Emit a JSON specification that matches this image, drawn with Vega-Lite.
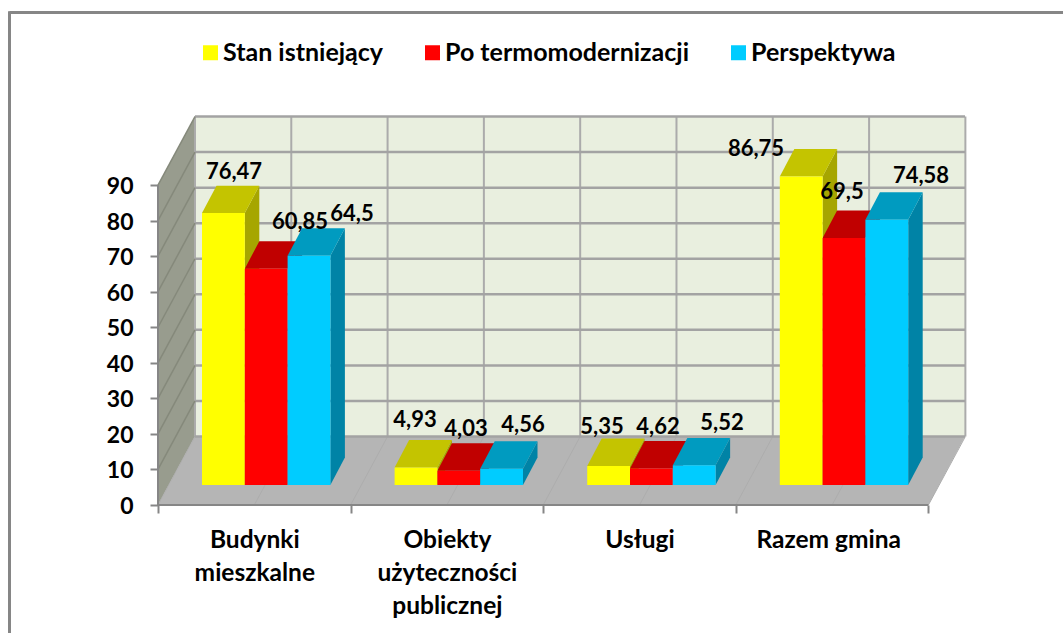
{
"$schema":"https://vega.github.io/schema/vega-lite/v6.json",
"width":807,"height":390,
"autosize":{"type":"none"},
"padding":{"left":158,"top":115,"right":98,"bottom":128},
"background":"white",
"config":{"view":{"stroke":null},"font":"Lato"},
"data":{"values":[
{"cat":"Budynki mieszkalne","series":"Stan istniejący","value":76.47},
{"cat":"Budynki mieszkalne","series":"Po termomodernizacji","value":60.85},
{"cat":"Budynki mieszkalne","series":"Perspektywa","value":64.5},
{"cat":"Obiekty użyteczności publicznej","series":"Stan istniejący","value":4.93},
{"cat":"Obiekty użyteczności publicznej","series":"Po termomodernizacji","value":4.03},
{"cat":"Obiekty użyteczności publicznej","series":"Perspektywa","value":4.56},
{"cat":"Usługi","series":"Stan istniejący","value":5.35},
{"cat":"Usługi","series":"Po termomodernizacji","value":4.62},
{"cat":"Usługi","series":"Perspektywa","value":5.52},
{"cat":"Razem gmina","series":"Stan istniejący","value":86.75},
{"cat":"Razem gmina","series":"Po termomodernizacji","value":69.5},
{"cat":"Razem gmina","series":"Perspektywa","value":74.58}
]},
"transform":[
{"calculate":"indexof(['Budynki mieszkalne','Obiekty użyteczności publicznej','Usługi','Razem gmina'],datum.cat)","as":"i"},
{"calculate":"indexof(['Stan istniejący','Po termomodernizacji','Perspektywa'],datum.series)","as":"j"},
{"calculate":"0.2285+datum.i+datum.j*0.2222","as":"x0"},
{"calculate":"datum.x0+0.2222","as":"x1"},
{"calculate":"5.63+datum.value","as":"top"}
],
"encoding":{
"x":{"field":"x","type":"quantitative","title":null,"scale":{"domain":[0,4.19],"nice":false,"zero":false},
"axis":{"values":[0,0.5,1,1.5,2,2.5,3,3.48,4],"grid":false,"domain":false,"tickSize":8,"tickWidth":2,"tickColor":"#868686","tickOpacity":{"condition":{"test":"datum.value%1==0","value":1},"value":0},
"labelExpr":"datum.value==0.5?['Budynki','mieszkalne']:datum.value==1.5?['Obiekty','użyteczności','publicznej']:datum.value==2.5?'Usługi':datum.value==3.48?'Razem gmina':''",
"labelFont":"Lato","labelFontWeight":"bold","labelFontSize":24.5,"labelColor":"black","labelPadding":15,"labelLineHeight":33,"labelOverlap":false,"labelFlush":false,"labelAlign":"center","labelBaseline":"top"}},
"y":{"field":"y","type":"quantitative","title":null,"stack":null,"scale":{"domain":[0,109.7],"nice":false,"zero":false},
"axis":{"values":[0,10,20,30,40,50,60,70,80,90],"grid":false,"domain":false,"tickSize":8,"tickWidth":2,"tickColor":"#868686","labelFont":"Lato","labelFontWeight":"bold","labelFontSize":23,"labelColor":"black","labelPadding":17,"labelOffset":1.5,"labelOverlap":false,"labelFlush":false}}
},
"layer":[
{"data":{"values":[{"side":"top"}]},
 "transform":[{"calculate":"-0.771","as":"x"},{"calculate":"4.7","as":"x2"},{"calculate":"138.5","as":"y"}],
 "mark":{"type":"rule","color":"#868686","strokeWidth":3,"clip":false},
 "encoding":{"x2":{"field":"x2"}}},
{"data":{"values":[{"side":"left"}]},
 "transform":[{"calculate":"-0.771","as":"x"},{"calculate":"138.9","as":"y"},{"calculate":"-36","as":"y2"}],
 "mark":{"type":"rule","color":"#868686","strokeWidth":3,"clip":false},
 "encoding":{"y2":{"field":"y2"}}},
{"data":{"values":[{"edge":0},{"edge":1}]},
 "transform":[{"calculate":"datum.edge*0.192","as":"x"},{"calculate":"datum.edge*19.27","as":"y"},{"calculate":"90+datum.edge*19.27","as":"y2"}],
 "mark":{"type":"area","orient":"vertical","color":"#989C8E"},
 "encoding":{"y2":{"field":"y2"}}},
{"data":{"values":[{"wall":"back"}]},
 "transform":[{"calculate":"0.192","as":"x"},{"calculate":"4.19","as":"x2"},{"calculate":"19.27","as":"y"},{"calculate":"109.27","as":"y2"}],
 "mark":{"type":"rect","color":"#E9EFDF"},
 "encoding":{"x2":{"field":"x2"},"y2":{"field":"y2"}}},
{"data":{"values":[{"edge":0},{"edge":1}]},
 "transform":[{"calculate":"datum.edge*0.192","as":"x"},{"calculate":"4+datum.edge*0.19","as":"x2"},{"calculate":"datum.edge*19.27","as":"y"}],
 "mark":{"type":"area","orient":"horizontal","color":"#B5B5B5"},
 "encoding":{"x2":{"field":"x2"}}},
{"data":{"values":[{"k":0},{"k":1},{"k":2},{"k":3},{"k":4},{"k":5},{"k":6},{"k":7},{"k":8}]},
 "transform":[{"calculate":"datum.k*0.5","as":"x"},{"calculate":"datum.k*0.5+0.192","as":"x2"},{"calculate":"0","as":"y"},{"calculate":"19.27","as":"y2"}],
 "mark":{"type":"rule","color":"#ADADAD","strokeWidth":1},
 "encoding":{"x2":{"field":"x2"},"y2":{"field":"y2"}}},
{"data":{"values":[{"k":0},{"k":1},{"k":2},{"k":3},{"k":4},{"k":5},{"k":6},{"k":7},{"k":8}]},
 "transform":[{"calculate":"datum.k*0.5+0.192","as":"x"},{"calculate":"19.27","as":"y"},{"calculate":"109.27","as":"y2"}],
 "mark":{"type":"rule","color":"#ABABAB","strokeWidth":2},
 "encoding":{"y2":{"field":"y2"}}},
{"data":{"values":[{"t":10},{"t":20},{"t":30},{"t":40},{"t":50},{"t":60},{"t":70},{"t":80},{"t":90},{"t":0}]},
 "transform":[{"calculate":"0.192","as":"x"},{"calculate":"4.19","as":"x2"},{"calculate":"datum.t+19.27","as":"y"}],
 "mark":{"type":"rule","color":"#A3A3A3","strokeWidth":2.5},
 "encoding":{"x2":{"field":"x2"}}},
{"data":{"values":[{"t":10},{"t":20},{"t":30},{"t":40},{"t":50},{"t":60},{"t":70},{"t":80},{"t":90}]},
 "transform":[{"calculate":"0","as":"x"},{"calculate":"0.192","as":"x2"},{"calculate":"datum.t","as":"y"},{"calculate":"datum.t+19.27","as":"y2"}],
 "mark":{"type":"rule","color":"#85897B","strokeWidth":1.5},
 "encoding":{"x2":{"field":"x2"},"y2":{"field":"y2"}}},
{"data":{"values":[{"axis":"x"}]},
 "transform":[{"calculate":"0","as":"x"},{"calculate":"4","as":"x2"},{"calculate":"0","as":"y"}],
 "mark":{"type":"rule","color":"#868686","strokeWidth":2},
 "encoding":{"x2":{"field":"x2"}}},
{"data":{"values":[{"axis":"y"}]},
 "transform":[{"calculate":"0","as":"x"},{"calculate":"0","as":"y"},{"calculate":"90","as":"y2"}],
 "mark":{"type":"rule","color":"#868686","strokeWidth":2},
 "encoding":{"y2":{"field":"y2"}}},
{"transform":[{"calculate":"[0,1]","as":"edge"},{"flatten":["edge"]},
  {"calculate":"datum.x1+datum.edge*0.0753","as":"x"},{"calculate":"5.63+datum.edge*7.73","as":"y"},{"calculate":"datum.top+datum.edge*7.73","as":"y2"}],
 "mark":{"type":"area","orient":"vertical"},
 "encoding":{"y2":{"field":"y2"},"detail":{"field":"cat"},
  "color":{"field":"series","type":"nominal","legend":null,"scale":{"domain":["Stan istniejący","Po termomodernizacji","Perspektywa"],"range":["#A6A600","#A30000","#0083A6"]}}}},
{"transform":[{"calculate":"[0,1]","as":"edge"},{"flatten":["edge"]},
  {"calculate":"datum.x0+datum.edge*0.0753","as":"x"},{"calculate":"datum.x1+datum.edge*0.0753","as":"x2"},{"calculate":"datum.top+datum.edge*7.73","as":"y"}],
 "mark":{"type":"area","orient":"horizontal"},
 "encoding":{"x2":{"field":"x2"},"detail":{"field":"cat"},
  "color":{"field":"series","type":"nominal","legend":null,"scale":{"domain":["Stan istniejący","Po termomodernizacji","Perspektywa"],"range":["#C4C400","#C00000","#009BC0"]}}}},
{"transform":[{"calculate":"datum.x0","as":"x"},{"calculate":"5.63","as":"y"}],
 "mark":{"type":"rect"},
 "encoding":{"x2":{"field":"x1"},"y2":{"field":"top"},
  "color":{"field":"series","type":"nominal","scale":{"domain":["Stan istniejący","Po termomodernizacji","Perspektywa"],"range":["#FFFF00","#FF0000","#00CCFF"]},
   "legend":{"orient":"none","legendX":40,"legendY":-75,"direction":"horizontal","columns":3,"title":null,"padding":0,"symbolType":"square","symbolSize":225,"symbolStrokeWidth":0,"labelFont":"Lato","labelFontWeight":"bold","labelFontSize":25,"labelColor":"black","labelOffset":0,"labelLimit":400,"columnPadding":36}}}},
{"transform":[
  {"calculate":"indexof(['Budynki mieszkalne','Obiekty użyteczności publicznej','Usługi','Razem gmina'],datum.cat)*3+datum.j","as":"n"},
  {"calculate":"(datum.x0+datum.x1)/2+[10.6,33.8,43,-1,7.2,21.4,-6.6,6.6,27.8,-45.2,-2,34.2][datum.n]/192.6","as":"x"},
  {"calculate":"datum.top+([43.1,47.7,42.7,48.5,42.7,44.8,40,42.6,43.4,28.6,46.9,44.9][datum.n]-1.5)/3.555","as":"y"},
  {"calculate":"replace(toString(datum.value),'.',',')","as":"label"}],
 "mark":{"type":"text","font":"Lato","fontWeight":"bold","fontSize":22,"color":"black","align":"center","baseline":"middle"},
 "encoding":{"text":{"field":"label"}}}
],
"resolve":{"scale":{"color":"independent"}}
}
